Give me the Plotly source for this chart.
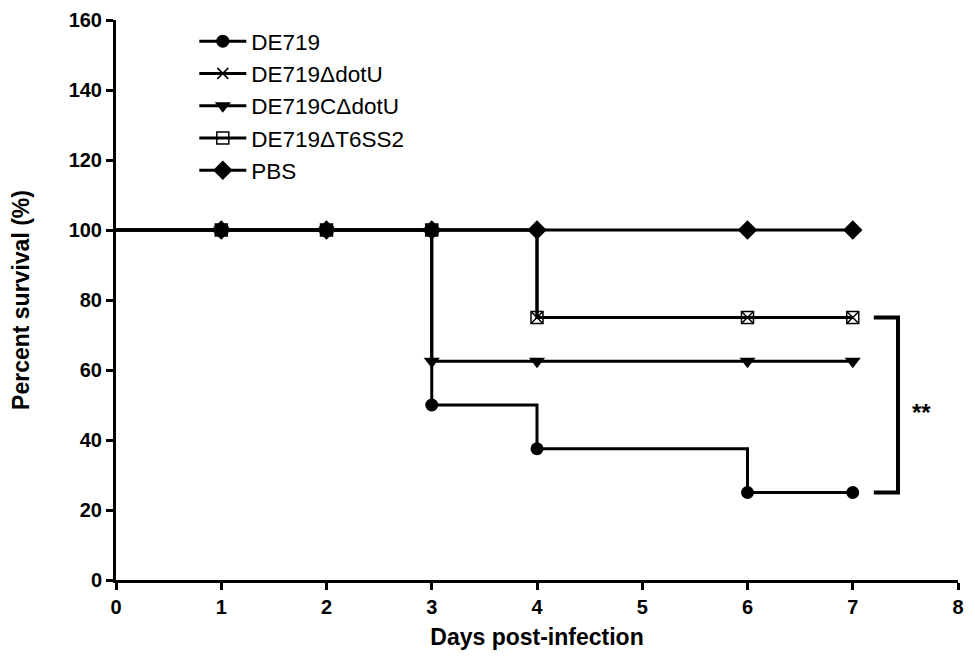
import plotly.graph_objects as go

# ---- data ----
series_names = ["DE719", "DE719\u0394dotU", "DE719C\u0394dotU", "DE719\u0394T6SS2", "PBS"]
days = [0, 1, 2, 3, 4, 6, 7]
surv_DE719 = [100, 100, 100, 50, 37.5, 25, 25]
surv_dotU = [100, 100, 100, 100, 75, 75, 75]
surv_CdotU = [100, 100, 100, 62.5, 62.5, 62.5, 62.5]
surv_T6SS2 = [100, 100, 100, 100, 75, 75, 75]
surv_PBS = [100, 100, 100, 100, 100, 100, 100]
marker_days_idx = [1, 2, 3, 4, 5, 6]  # markers shown at days 1..7 (not day 0)

x_ticks = [0, 1, 2, 3, 4, 5, 6, 7, 8]
y_ticks = [0, 20, 40, 60, 80, 100, 120, 140, 160]
sig_label = "**"

FONT = "Arial, Liberation Sans, sans-serif"

styles = [
    dict(symbol="circle", size=13, line=dict(width=0)),
    dict(symbol="x-thin-open", size=11, line=dict(width=1.5, color="black")),
    dict(symbol="triangle-down", size=14, line=dict(width=0)),
    dict(symbol="square-open", size=12, line=dict(width=1.5, color="black")),
    dict(symbol="diamond", size=15, line=dict(width=0)),
]
all_surv = [surv_DE719, surv_dotU, surv_CdotU, surv_T6SS2, surv_PBS]
order = [4, 2, 0, 3, 1]

fig = go.Figure()
for i in range(5):
    fig.add_trace(go.Scatter(
        x=[None], y=[None], mode="lines+markers", name=series_names[i],
        line=dict(color="black", width=3),
        marker=dict(color="black", **styles[i]),
        legendrank=i + 1,
    ))
for i in order:
    s = all_surv[i]
    fig.add_trace(go.Scatter(
        x=days, y=s, mode="lines", line=dict(color="black", width=3, shape="hv"),
        showlegend=False, hoverinfo="skip",
    ))
for i in order:
    s = all_surv[i]
    fig.add_trace(go.Scatter(
        x=[days[k] for k in marker_days_idx], y=[s[k] for k in marker_days_idx],
        mode="markers", marker=dict(color="black", **styles[i]),
        showlegend=False, hoverinfo="skip",
    ))

# significance bracket between DE719ΔT6SS2 and DE719 endpoints
top = surv_T6SS2[-1]
bot = surv_DE719[-1]
bx0, bx1 = 7.2, 7.43
fig.add_trace(go.Scatter(
    x=[bx0, bx1, bx1, bx0], y=[top, top, bot, bot], mode="lines",
    line=dict(color="black", width=4), showlegend=False, hoverinfo="skip",
))
fig.add_annotation(x=7.65, y=(top + bot) / 2 - 2, text="<b>" + sig_label + "</b>", showarrow=False,
                   font=dict(family=FONT, size=24, color="black"), xref="x", yref="y")

fig.update_layout(
    width=967, height=658,
    paper_bgcolor="white", plot_bgcolor="white",
    margin=dict(l=108, r=17, t=12, b=86),
    font=dict(family=FONT, color="black"),
    legend=dict(x=0.093, y=1.0, xanchor="left", yanchor="top",
                font=dict(family=FONT, size=22.5, color="black"),
                bgcolor="rgba(0,0,0,0)", itemwidth=47),
    showlegend=True,
)
fig.update_xaxes(
    range=[0, 8], tickvals=x_ticks, ticktext=[str(v) for v in x_ticks],
    showgrid=False, zeroline=False, showline=True, linecolor="black", linewidth=3,
    ticks="outside", ticklen=7, tickwidth=3, tickcolor="black", automargin=False,
    tickfont=dict(family=FONT, size=20, color="black", weight="bold"),
    title=dict(text="<b>Days post-infection</b>", font=dict(family=FONT, size=23), standoff=12),
)
fig.update_yaxes(
    range=[0, 160], tickvals=y_ticks, ticktext=[str(v) for v in y_ticks],
    showgrid=False, zeroline=False, showline=True, linecolor="black", linewidth=3,
    ticks="outside", ticklen=7, tickwidth=3, tickcolor="black", automargin=False,
    tickfont=dict(family=FONT, size=20, color="black", weight="bold"),
    title=dict(text="<b>Percent survival (%)</b>", font=dict(family=FONT, size=23), standoff=36),
)
fig.write_html("out.html")
